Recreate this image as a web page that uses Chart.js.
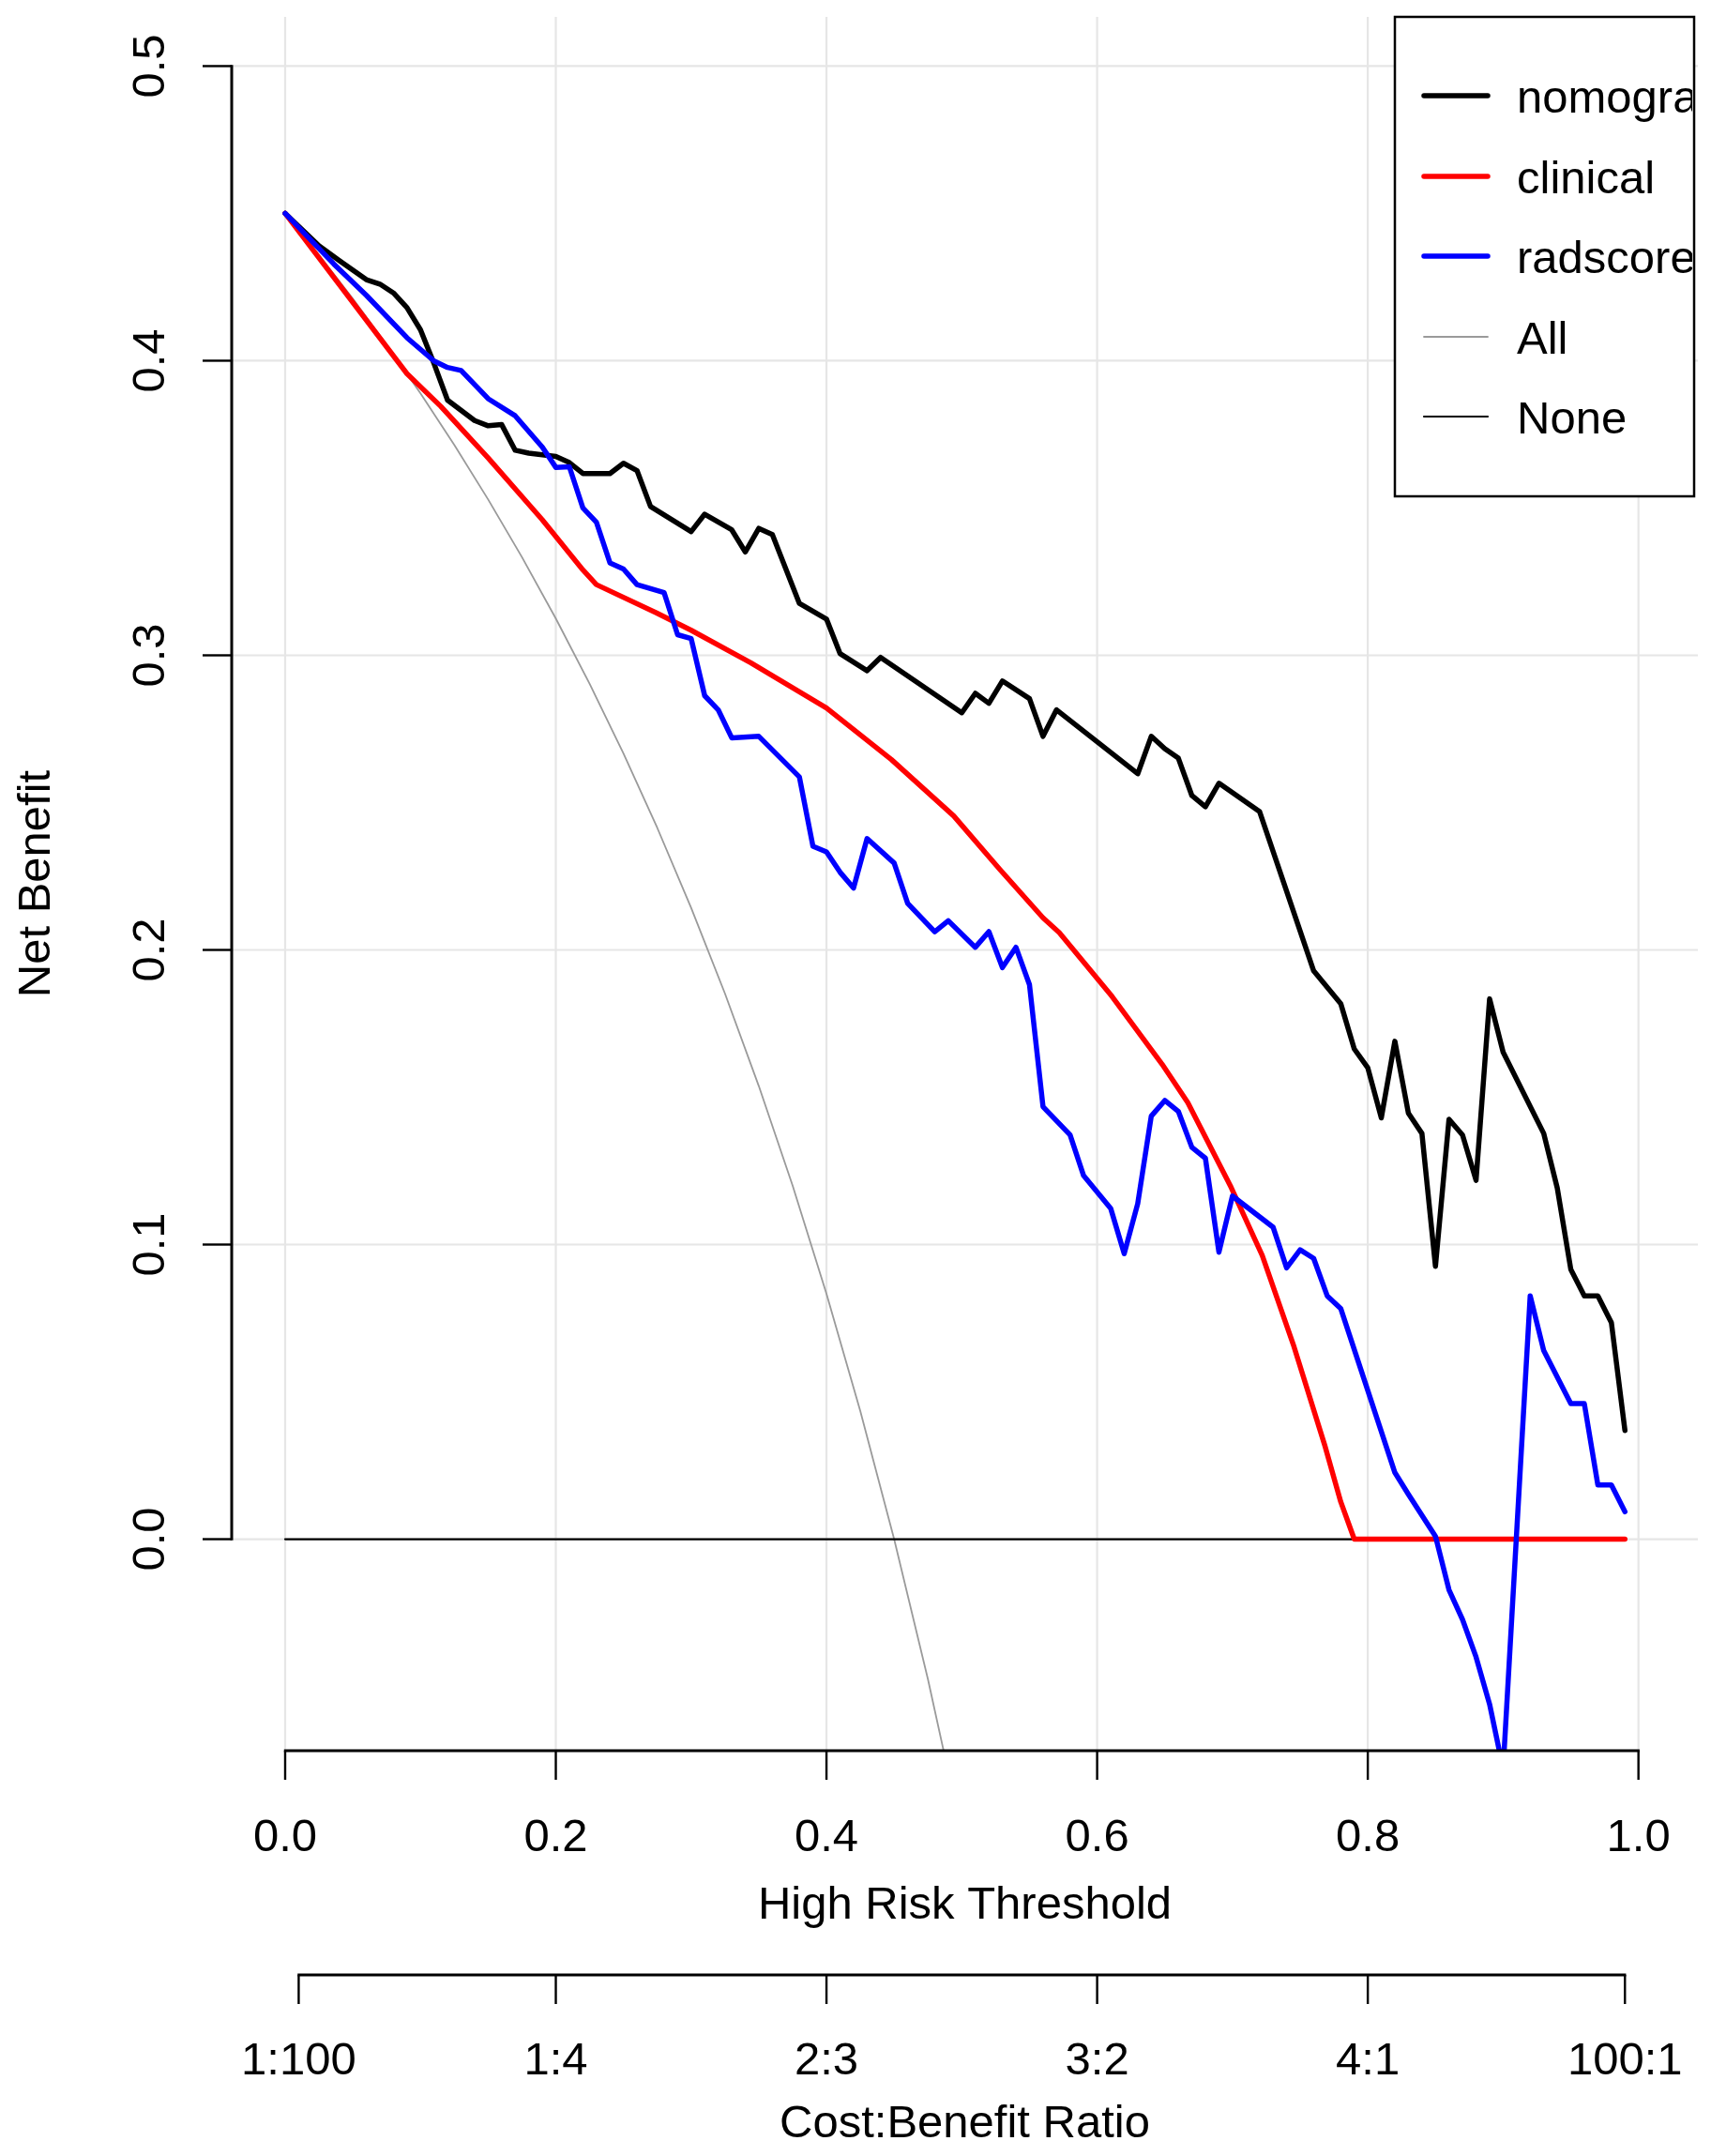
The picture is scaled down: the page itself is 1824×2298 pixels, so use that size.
<!DOCTYPE html>
<html>
<head>
<meta charset="utf-8">
<script src="https://cdn.jsdelivr.net/npm/chart.js@4.4.1/dist/chart.umd.min.js"></script>
<style>
html,body{margin:0;padding:0;background:#ffffff;}
#wrap{width:1824px;height:2298px;position:relative;}
canvas{display:block;}
</style>
</head>
<body>
<div id="wrap"><canvas id="c" width="1824" height="2298"></canvas></div>
<script>
// ---------------- data ----------------
const nomogramT = [0,0.025,0.04,0.06,0.07,0.08,0.09,0.10,0.11,0.12,0.14,0.15,0.16,0.17,0.18,0.20,0.21,0.22,0.24,0.25,0.26,0.27,0.30,0.31,0.33,0.34,0.35,0.36,0.38,0.40,0.41,0.43,0.44,0.50,0.51,0.52,0.53,0.55,0.56,0.57,0.63,0.64,0.65,0.66,0.67,0.68,0.69,0.72,0.76,0.78,0.79,0.80,0.81,0.82,0.83,0.84,0.85,0.86,0.87,0.88,0.89,0.90,0.93,0.94,0.95,0.96,0.97,0.98,0.99];
const nomogramNB = [0.450,0.439,0.434,0.4275,0.426,0.423,0.418,0.4105,0.399,0.3866,0.3797,0.3779,0.3783,0.3696,0.3686,0.3675,0.3654,0.3617,0.3617,0.3652,0.3627,0.3505,0.342,0.3479,0.3426,0.3351,0.3431,0.341,0.3176,0.3123,0.3006,0.2948,0.2993,0.2805,0.2871,0.2837,0.2913,0.2853,0.2725,0.2815,0.2598,0.2725,0.2683,0.2651,0.2524,0.2486,0.2566,0.247,0.1929,0.1818,0.1664,0.16,0.143,0.169,0.1446,0.1377,0.0926,0.1425,0.1372,0.1218,0.1834,0.1653,0.1377,0.1192,0.0916,0.0826,0.0826,0.0735,0.0369];

const clinicalT = [0,0.09,0.115,0.15,0.19,0.22,0.23,0.274,0.30,0.344,0.40,0.448,0.494,0.528,0.56,0.572,0.611,0.648,0.667,0.699,0.722,0.745,0.7685,0.78,0.79,0.99];
const clinicalNB = [0.45,0.3956,0.3845,0.367,0.346,0.329,0.324,0.3145,0.3085,0.2975,0.2821,0.2646,0.2455,0.2274,0.2109,0.2059,0.1842,0.1612,0.1482,0.1194,0.0963,0.066,0.0314,0.0127,0,0];

const radscoreT = [0,0.036,0.06,0.09,0.11,0.12,0.13,0.15,0.17,0.19,0.20,0.21,0.22,0.23,0.24,0.25,0.26,0.28,0.29,0.30,0.31,0.32,0.33,0.35,0.38,0.39,0.40,0.41,0.42,0.43,0.45,0.46,0.48,0.49,0.51,0.52,0.53,0.54,0.55,0.56,0.58,0.59,0.61,0.62,0.63,0.64,0.65,0.66,0.67,0.68,0.69,0.70,0.73,0.74,0.75,0.76,0.77,0.78,0.82,0.83,0.85,0.86,0.87,0.88,0.89,0.90,0.92,0.93,0.95,0.96,0.97,0.98,0.99];
const radscoreNB = [0.45,0.4328,0.4222,0.4078,0.3999,0.3977,0.3967,0.3871,0.3813,0.3707,0.3638,0.364,0.350,0.3452,0.3314,0.3293,0.324,0.3213,0.307,0.3057,0.2863,0.2815,0.272,0.2725,0.2587,0.2352,0.2333,0.2264,0.221,0.2378,0.2295,0.2158,0.2062,0.2099,0.2009,0.2062,0.194,0.2009,0.1882,0.1468,0.1372,0.1234,0.1123,0.0969,0.1139,0.1436,0.1489,0.1452,0.133,0.1293,0.0974,0.1165,0.1059,0.0921,0.0982,0.0953,0.0826,0.0783,0.0226,0.0152,0.001,-0.0172,-0.0273,-0.04,-0.056,-0.078,0.0826,0.064,0.046,0.046,0.0184,0.0184,0.0093];

const allT = [0,0.025,0.05,0.075,0.1,0.125,0.15,0.175,0.2,0.225,0.25,0.275,0.3,0.325,0.35,0.375,0.4,0.425,0.45,0.475,0.5];
const allNB = [0.45,0.4359,0.4211,0.4054,0.3889,0.3714,0.3529,0.3333,0.3125,0.2903,0.2667,0.2414,0.2143,0.1852,0.1538,0.12,0.0833,0.0435,0,-0.0476,-0.1];

const noneT = [0,0.99];
const noneNB = [0,0];

const seriesNames = ["nomogram","clinical","radscore","All","None"];

const xTicks = [0,0.2,0.4,0.6,0.8,1.0];
const xTickLabels = ["0.0","0.2","0.4","0.6","0.8","1.0"];
const yTicks = [0,0.1,0.2,0.3,0.4,0.5];
const yTickLabels = ["0.0","0.1","0.2","0.3","0.4","0.5"];
const costTicks = [0.01,0.2,0.4,0.6,0.8,0.99];
const costTickLabels = ["1:100","1:4","2:3","3:2","4:1","100:1"];

const xTitle = "High Risk Threshold";
const yTitle = "Net Benefit";
const costTitle = "Cost:Benefit Ratio";

// ---------------- build chart ----------------
function pts(t, v){ return t.map((x,i)=>({x:x, y:v[i]})); }

const FONT = '49px "Liberation Sans", Arial, sans-serif';

const styles = {
  nomogram:{color:'#000000', width:5.5, order:3},
  clinical:{color:'#ff0000', width:5.5, order:2},
  radscore:{color:'#0000ff', width:5.5, order:1},
  All:{color:'#9a9a9a', width:1.8, order:5},
  None:{color:'#000000', width:2.2, order:4}
};

const seriesData = {
  nomogram: pts(nomogramT, nomogramNB),
  clinical: pts(clinicalT, clinicalNB),
  radscore: pts(radscoreT, radscoreNB),
  All: pts(allT, allNB),
  None: pts(noneT, noneNB)
};

const datasets = seriesNames.map(n => ({
  label: n,
  data: seriesData[n],
  borderColor: styles[n].color,
  borderWidth: styles[n].width,
  order: styles[n].order,
  pointRadius: 0,
  tension: 0,
  fill: false,
  clip: 0,
  borderJoinStyle: 'round',
  borderCapStyle: 'round'
}));

const gridPlugin = {
  id: 'gridPlugin',
  beforeDatasetsDraw(chart){
    const ctx = chart.ctx, a = chart.chartArea;
    const xs = chart.scales.x, ys = chart.scales.y;
    ctx.save();
    ctx.strokeStyle = '#e6e6e6';
    ctx.lineWidth = 2.2;
    xTicks.forEach(t => {
      const px = xs.getPixelForValue(t);
      ctx.beginPath(); ctx.moveTo(px, a.top); ctx.lineTo(px, a.bottom); ctx.stroke();
    });
    yTicks.forEach(v => {
      const py = ys.getPixelForValue(v);
      ctx.beginPath(); ctx.moveTo(a.left, py); ctx.lineTo(a.right, py); ctx.stroke();
    });
    ctx.restore();
  }
};

const axesPlugin = {
  id: 'axesPlugin',
  afterDraw(chart){
    const ctx = chart.ctx, a = chart.chartArea;
    const xs = chart.scales.x, ys = chart.scales.y;
    ctx.save();
    ctx.strokeStyle = '#000';
    ctx.fillStyle = '#000';
    ctx.lineCap = 'butt';
    ctx.font = FONT;

    // x axis (bottom of plot region)
    const ax = a.bottom;
    ctx.lineWidth = 3;
    ctx.beginPath();
    ctx.moveTo(xs.getPixelForValue(xTicks[0]) - 1.2, ax);
    ctx.lineTo(xs.getPixelForValue(xTicks[xTicks.length-1]) + 1.2, ax);
    ctx.stroke();
    ctx.lineWidth = 2.4;
    ctx.textAlign = 'center';
    ctx.textBaseline = 'alphabetic';
    xTicks.forEach((t,i) => {
      const px = xs.getPixelForValue(t);
      ctx.beginPath(); ctx.moveTo(px, ax); ctx.lineTo(px, ax + 31); ctx.stroke();
      ctx.fillText(xTickLabels[i], px, ax + 107);
    });
    const midX = (a.left + a.right) / 2;
    ctx.fillText(xTitle, midX, ax + 179);

    // cost:benefit axis
    const cy = ax + 239;
    ctx.lineWidth = 3;
    ctx.beginPath();
    ctx.moveTo(xs.getPixelForValue(costTicks[0]) - 1.2, cy);
    ctx.lineTo(xs.getPixelForValue(costTicks[costTicks.length-1]) + 1.2, cy);
    ctx.stroke();
    ctx.lineWidth = 2.4;
    costTicks.forEach((t,i) => {
      const px = xs.getPixelForValue(t);
      ctx.beginPath(); ctx.moveTo(px, cy); ctx.lineTo(px, cy + 31); ctx.stroke();
      ctx.fillText(costTickLabels[i], px, cy + 106);
    });
    ctx.fillText(costTitle, midX, cy + 173);

    // y axis
    const yx = a.left;
    ctx.lineWidth = 3;
    ctx.beginPath();
    ctx.moveTo(yx, ys.getPixelForValue(yTicks[0]) + 1.2);
    ctx.lineTo(yx, ys.getPixelForValue(yTicks[yTicks.length-1]) - 1.2);
    ctx.stroke();
    ctx.lineWidth = 2.4;
    yTicks.forEach((v,i) => {
      const py = ys.getPixelForValue(v);
      ctx.beginPath(); ctx.moveTo(yx, py); ctx.lineTo(yx - 31, py); ctx.stroke();
      ctx.save();
      ctx.translate(yx - 72, py);
      ctx.rotate(-Math.PI/2);
      ctx.textAlign = 'center';
      ctx.fillText(yTickLabels[i], 0, 0);
      ctx.restore();
    });
    ctx.save();
    ctx.translate(53, (a.top + a.bottom)/2);
    ctx.rotate(-Math.PI/2);
    ctx.textAlign = 'center';
    ctx.fillText(yTitle, 0, 0);
    ctx.restore();

    // legend
    const lx0 = 1487, ly0 = 18, lx1 = 1806, ly1 = 529;
    ctx.save();
    ctx.beginPath(); ctx.rect(0, 0, 1808, chart.height); ctx.clip();
    ctx.fillStyle = '#fff';
    ctx.fillRect(lx0, ly0, lx1 - lx0, ly1 - ly0);
    ctx.strokeStyle = '#000';
    ctx.lineWidth = 2.5;
    ctx.strokeRect(lx0, ly0, lx1 - lx0, ly1 - ly0);
    ctx.beginPath(); ctx.rect(lx0, ly0, lx1 - lx0 - 2, ly1 - ly0); ctx.clip();
    const rowY = [102, 188, 273, 359, 444];
    ctx.textAlign = 'left';
    ctx.textBaseline = 'alphabetic';
    ctx.font = FONT;
    seriesNames.forEach((n,i) => {
      const st = styles[n];
      ctx.strokeStyle = st.color;
      ctx.lineWidth = st.width;
      ctx.lineCap = 'round';
      ctx.beginPath(); ctx.moveTo(1518, rowY[i]); ctx.lineTo(1586, rowY[i]); ctx.stroke();
      ctx.fillStyle = '#000';
      ctx.fillText(n, 1617, rowY[i] + 18);
    });
    ctx.restore();

    ctx.restore();
  }
};

new Chart(document.getElementById('c'), {
  type: 'line',
  data: { datasets: datasets },
  options: {
    responsive: false,
    animation: false,
    devicePixelRatio: 1,
    layout: { padding: { left: 247, right: 14, top: 18, bottom: 432 } },
    scales: {
      x: { type: 'linear', min: -0.0395, max: 1.0439, display: false },
      y: { type: 'linear', min: -0.0718, max: 0.5167, display: false }
    },
    plugins: { legend: { display: false }, tooltip: { enabled: false } },
    events: []
  },
  plugins: [gridPlugin, axesPlugin]
});
</script>
</body>
</html>
